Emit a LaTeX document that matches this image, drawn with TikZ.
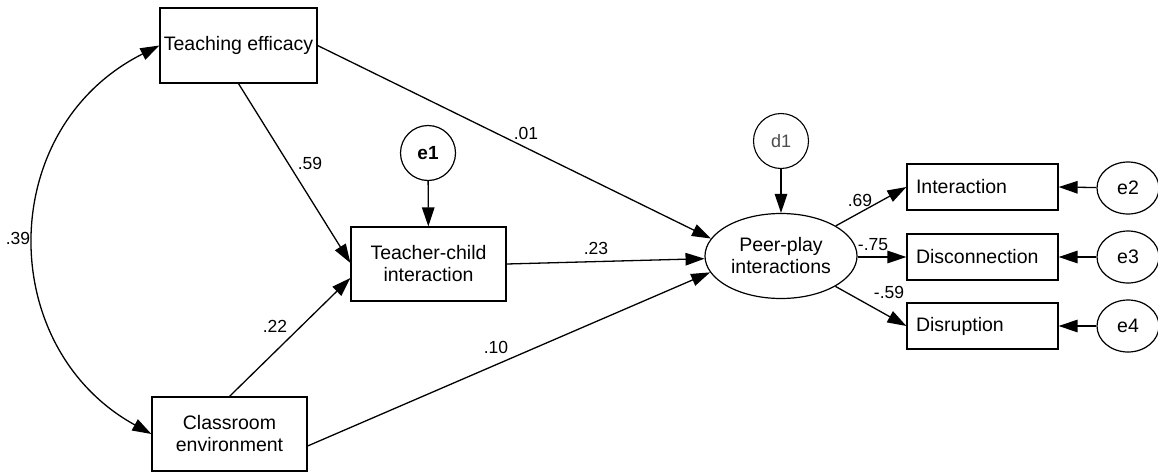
\documentclass[tikz,border=0pt]{standalone}
\usepackage{fontspec}
\setmainfont{Liberation Sans}
\usetikzlibrary{arrows.meta,shapes.geometric,calc}
\begin{document}
\begin{tikzpicture}[x=1pt,y=-1pt,
  every node/.style={font=\fontsize{19.5}{22}\selectfont, inner sep=0pt, align=center},
  box/.style={draw, line width=1.2pt, rectangle},
  circ/.style={draw, line width=1.2pt, circle, minimum size=55pt},
  errell/.style={draw, line width=1.2pt, ellipse, minimum width=62pt, minimum height=52pt},
  path/.style={line width=1.3pt, -{Triangle[length=19pt,width=12.5pt]}},
  lab/.style={font=\fontsize{17.5}{20}\selectfont}]
\useasboundingbox (0,0) rectangle (1158,474);
\fill[white] (0,0) rectangle (1158,474);
% nodes
\node[box, minimum width=157pt, minimum height=75pt] (te) at (238.5,45.5) {Teaching efficacy};
\node[box, minimum width=155pt, minimum height=74pt] (ce) at (229.5,434) {Classroom\\environment};
\node[box, minimum width=155pt, minimum height=74pt] (tc) at (428.5,264) {Teacher-child\\interaction};
\node[circ, font=\fontsize{19}{22}\selectfont\bfseries] (e1) at (428,153) {e1};
\node[circ, text=black!70, line width=1.1pt, font=\fontsize{18}{21}\selectfont] (d1) at (781,141) {d1};
\node[draw, line width=1.2pt, ellipse, minimum width=152pt, minimum height=85pt] (pp) at (781,256) {Peer-play\\interactions};
\node[box, minimum width=151pt, minimum height=46pt, text width=133pt, align=left] (int) at (982.5,187) {Interaction};
\node[box, minimum width=151pt, minimum height=46pt, text width=133pt, align=left] (dis) at (982.5,257) {Disconnection};
\node[box, minimum width=151pt, minimum height=46pt, text width=133pt, align=left] (dsr) at (982.5,326) {Disruption};
\node[errell] (e2) at (1128,188) {e2};
\node[errell] (e3) at (1128,257) {e3};
\node[errell] (e4) at (1128,326) {e4};
% covariance
\draw[line width=1.3pt, {Triangle[length=19pt,width=12.5pt]}-{Triangle[length=19pt,width=12.5pt]}]
  (te.west) .. controls (-5,128) and (-5,348) .. (ce.west);
% paths
\draw[path] (te.south) -- ($(tc.west)+(0,-1)$);
\draw[path] (ce.north) -- ($(tc.west)+(0,14)$);
\draw[path] (te.east) -- (pp.166);
\draw[path] (tc.east) -- (pp.182);
\draw[path] ($(ce.east)+(0,12)$) -- (pp.193);
\draw[path] (e1) -- (tc);
\draw[path] (d1) -- (pp);
\draw[path] (pp) -- (int.west);
\draw[path] (pp.east |- dis.west) -- (dis.west);
\draw[path] (pp) -- (dsr.west);
\draw[path] (e2) -- (int.east);
\draw[path] (e3) -- (dis.east);
\draw[path] (e4) -- (dsr.east);
% labels
\node[lab] (l59) at (310,163) {.59};
\node[lab] (l01) at (526,133) {.01};
\node[lab] (l23) at (596,248) {.23};
\node[lab] (l22) at (275,326) {.22};
\node[lab] (l10) at (496,347) {.10};
\node[lab] (l39) at (18,238) {.39};
\node[lab] (l69) at (860,200) {.69};
\node[lab] (l75) at (873,245) {-.75};
\node[lab] (l592) at (889,292) {-.59};
\end{tikzpicture}
\end{document}
